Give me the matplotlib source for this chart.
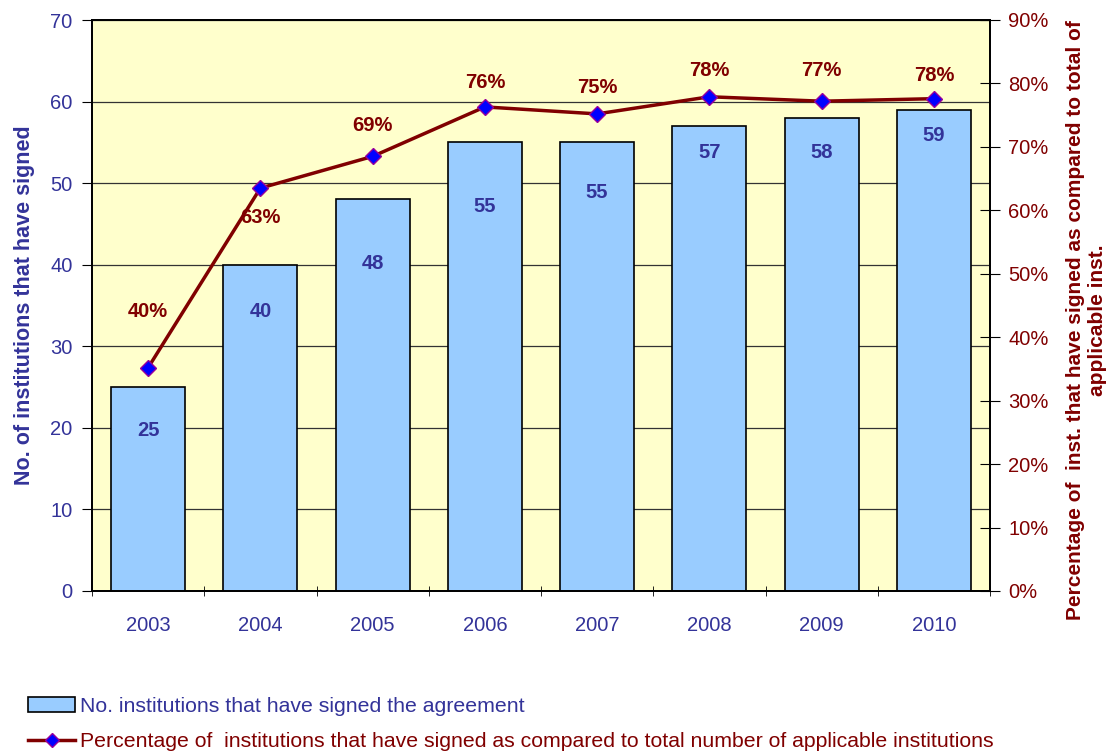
import matplotlib.pyplot as plt
from matplotlib.lines import Line2D
from matplotlib.patches import Patch

plt.rcParams['font.family'] = ['Liberation Sans', 'DejaVu Sans']

# data
years = ['2003', '2004', '2005', '2006', '2007', '2008', '2009', '2010']
signed = [25, 40, 48, 55, 55, 57, 58, 59]
percent = [35.2, 63.5, 68.5, 76.3, 75.2, 77.9, 77.2, 77.6]
percent_labels = ['40%', '63%', '69%', '76%', '75%', '78%', '77%', '78%']

# label placement (layout only)
bar_label_y = [19.7, 34.3, 40.1, 47.1, 48.9, 53.7, 53.7, 55.9]
pct_label_y = [44.0, 58.8, 73.3, 80.2, 79.3, 82.0, 82.0, 81.3]

NAVY = '#333399'
DARKRED = '#800000'
FS = 14.5

fig = plt.figure(figsize=(11.17, 7.51), dpi=100)
ax = fig.add_axes([92 / 1117, 1 - 591 / 751, 898 / 1117, 571 / 751])
ax.set_facecolor('#ffffcc')

x = list(range(len(years)))
ax.bar(x, signed, width=0.66, color='#99ccff', edgecolor='black', linewidth=1.2, zorder=3)
ax.set_ylim(0, 70)
ax.set_xlim(-0.5, len(years) - 0.5)
ax.set_yticks(range(0, 71, 10))
ax.yaxis.grid(True, color='#333333', linewidth=0.9, zorder=0)
ax.set_axisbelow(True)
ax.tick_params(axis='y', labelcolor=NAVY, labelsize=FS, length=7, direction='out',
               color='black', pad=7)
ax.set_xticks(x)
ax.set_xticklabels(years)
ax.tick_params(axis='x', which='major', length=0, labelsize=FS, labelcolor=NAVY, pad=18)
ax.set_xticks([i - 0.5 for i in range(len(years) + 1)], minor=True)
ax.tick_params(axis='x', which='minor', length=7, direction='inout', color='black')
for s in ax.spines.values():
    s.set_linewidth(1.3)
ax.set_ylabel('No. of institutions that have signed', color=NAVY, fontsize=15.5,
              fontweight='bold', labelpad=11)

for i, v in enumerate(signed):
    ax.text(i, bar_label_y[i], str(v), ha='center', va='center', color=NAVY,
            fontsize=FS, fontweight='bold', zorder=5)

ax2 = ax.twinx()
ax2.plot(x, percent, color=DARKRED, linewidth=2.5, marker='D', markersize=8.5,
         markerfacecolor='#0000ff', markeredgecolor='#990099', markeredgewidth=1, zorder=6)
ax2.set_ylim(0, 90)
ax2.set_yticks(range(0, 91, 10))
ax2.set_yticklabels([f'{v}%' for v in range(0, 91, 10)])
ax2.tick_params(axis='y', labelcolor=DARKRED, labelsize=FS, length=14,
                direction='inout', color='black', pad=6)
for s in ax2.spines.values():
    s.set_linewidth(1.3)
ax2.set_ylabel('Percentage of  inst. that have signed as compared to total of\napplicable inst.',
               color=DARKRED, fontsize=15, fontweight='bold')
ax2.yaxis.set_label_coords(1.085, 0.475)

for i, lab in enumerate(percent_labels):
    ax2.text(i, pct_label_y[i], lab, ha='center', va='center', color=DARKRED,
             fontsize=FS, fontweight='bold', zorder=7)

handles = [
    Patch(facecolor='#99ccff', edgecolor='black', linewidth=1.2),
    Line2D([0], [0], color=DARKRED, linewidth=2.5, marker='D', markersize=7,
           markerfacecolor='#0000ff', markeredgecolor='#990099'),
]
leg = fig.legend(handles,
                 ['No. institutions that have signed the agreement',
                  'Percentage of  institutions that have signed as compared to total number of applicable institutions'],
                 loc='lower left', bbox_to_anchor=(0.012, -0.02), frameon=False,
                 fontsize=15.3, handlelength=2.2, handletextpad=0.25, labelspacing=0.75,
                 borderaxespad=0.3)
for t, c in zip(leg.get_texts(), [NAVY, DARKRED]):
    t.set_color(c)

fig.savefig('out.png', dpi=100)
